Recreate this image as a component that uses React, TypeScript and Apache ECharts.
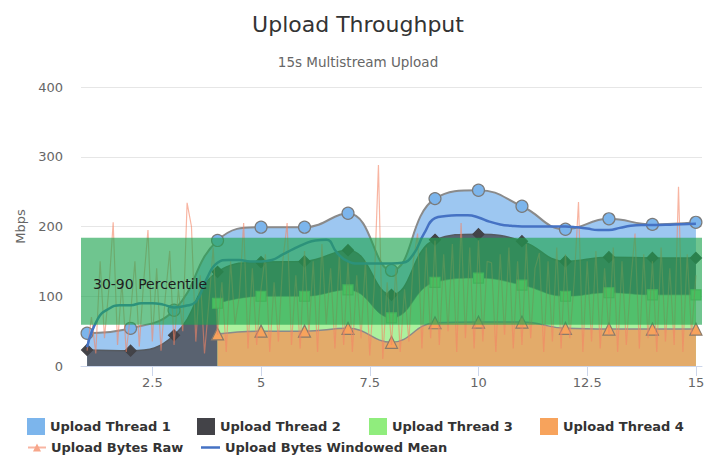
import React, { useEffect, useRef } from "react";
import * as echarts from "echarts";

// ---------- data ----------
const seconds = [1, 2, 3, 4, 5, 6, 7, 8, 9, 10, 11, 12, 13, 14, 15];
const thread1 = [24, 32, 36, 45, 50, 49, 53, 35, 59, 63, 50, 46, 55, 48, 51];
const thread2 = [23, 22, 44, 45, 49, 50, 57, 33, 61, 63, 63, 50, 51, 53, 53];
const thread3 = [null, null, null, 44, 50, 50, 55, 35, 58, 63, 53, 46, 52, 49, 49];
const thread4 = [null, null, null, 46, 50, 50, 54, 34, 62, 63, 63, 54, 53, 53, 53];

const rawStart = 1;
const rawStep = 0.1;
const rawValues = [
  22, 70, 18, 150, 40, 110, 206, 30, 120, 20,
  75, 150, 28, 120, 195, 35, 140, 22, 100, 165,
  30, 110, 50, 234, 200, 35, 130, 18, 90, 170,
  45, 120, 20, 150, 60, 100, 205, 25, 140, 30,
  110, 160, 20, 120, 35, 150, 205, 30, 130, 25,
  165, 45, 150, 20, 175, 60, 140, 25, 160, 30,
  150, 20, 130, 40, 150, 15, 110, 288, 10, 120,
  30, 140, 20, 110, 35, 150, 190, 25, 170, 40,
  180, 30, 160, 50, 175, 20, 205, 40, 170, 25,
  180, 35, 150, 148, 20, 160, 45, 170, 25, 150,
  30, 175, 40, 140, 162, 20, 150, 35, 170, 25,
  160, 40, 120, 235, 20, 150, 35, 165, 25, 140,
  45, 170, 20, 150, 30, 120, 190, 25, 160, 40,
  150, 20, 170, 35, 140, 30, 257, 20, 160, 45,
  130,
];

const meanTimes = [
  1, 1.25, 1.5, 1.75, 2, 2.25, 2.5, 2.75, 3, 3.25, 3.5, 3.75, 4, 4.25, 4.5, 4.75,
  5, 5.25, 5.5, 5.75, 6, 6.25, 6.5, 6.75, 7, 7.25, 7.5, 7.75, 8, 8.25, 8.5, 8.75,
  9, 9.25, 9.5, 9.75, 10, 10.25, 10.5, 10.75, 11, 11.5, 12, 12.25, 12.5, 12.75,
  13, 13.25, 13.5, 13.75, 14, 14.5, 15,
];
const meanValues = [
  27, 68, 82, 87, 87, 90, 90, 88, 84, 86, 92, 125, 148, 152, 152, 150,
  150, 152, 160, 168, 175, 180, 181, 162, 150, 147, 147, 147, 147, 148, 160, 190,
  212, 215, 216, 216, 213, 207, 203, 201, 200, 200, 200, 199, 197, 195,
  195, 198, 201, 202, 202, 203, 204,
];

const xTicks = [2.5, 5, 7.5, 10, 12.5, 15];
const yTicks = [0, 100, 200, 300, 400];
const bandLow = 59;
const bandHigh = 184;
const bandLabel = "30-90 Percentile";

const titleText = "Upload Throughput";
const subtitleText = "15s Multistream Upload";
const yName = "Mbps";

// ---------- styling ----------
const FONT = '"DejaVu Sans", Verdana, sans-serif';
const X_MIN = 0.86;
const X_MAX = 15.14;

const App: React.FC = () => {
  const ref = useRef<HTMLDivElement>(null);

  useEffect(() => {
    if (!ref.current) return;
    const chart = echarts.init(ref.current, undefined, { renderer: "svg" });

    const nz = (v: number | null) => (v == null ? 0 : v);
    const cum1 = seconds.map((_, i) => thread1[i] + thread2[i] + nz(thread3[i]) + nz(thread4[i]));
    const cum2 = seconds.map((_, i) => thread2[i] + nz(thread3[i]) + nz(thread4[i]));
    const cum3 = seconds.map((_, i) => (thread3[i] == null ? null : nz(thread3[i]) + nz(thread4[i])));
    const cum4 = seconds.map((_, i) => thread4[i]);

    const pairs = (vals: (number | null)[]) =>
      seconds.map((x, i) => [x, vals[i]] as [number, number | null]).filter((p) => p[1] != null);

    const areaSeries = (
      name: string,
      vals: (number | null)[],
      color: string,
      fill: string,
      symbol: string,
      symbolSize: number,
      lineColor: string,
      lineWidth: number,
      borderColor: string
    ) => ({
      type: "line",
      name,
      data: pairs(vals),
      smooth: 0.45,
      symbol,
      symbolSize,
      showSymbol: true,
      itemStyle: { color, borderColor, borderWidth: 1.2 },
      lineStyle: { color: lineColor, width: lineWidth },
      areaStyle: { color: fill, opacity: 1 },
      z: 2,
      silent: true,
    });

    const rawData = rawValues.map((v, i) => [rawStart + i * rawStep, v]);
    const meanData = meanTimes.map((t, i) => [t, meanValues[i]]);

    const legendText = { fontFamily: FONT, fontSize: 13, fontWeight: "bold", color: "#333" };
    const legendBase = {
      orient: "horizontal",
      itemWidth: 18,
      itemHeight: 17,
      textStyle: legendText,
      itemStyle: { borderWidth: 0 },
      selectedMode: false,
      padding: 0,
    };

    const option: any = {
      animation: false,
      backgroundColor: "#ffffff",
      title: [
        {
          text: titleText,
          left: "center",
          top: 8,
          textStyle: { fontFamily: FONT, fontSize: 22, fontWeight: "normal", color: "#333" },
        },
        {
          text: subtitleText,
          left: "center",
          top: 50,
          textStyle: { fontFamily: FONT, fontSize: 13.5, fontWeight: "normal", color: "#666" },
        },
      ],
      grid: { left: 81, right: 14, top: 87, bottom: 90 },
      xAxis: {
        type: "value",
        min: X_MIN,
        max: X_MAX,
        axisLine: { show: true, lineStyle: { color: "#ccd6eb", width: 1 } },
        axisTick: { show: true, customValues: xTicks, length: 10, lineStyle: { color: "#ccd6eb" } },
        axisLabel: {
          customValues: xTicks,
          color: "#666",
          fontSize: 13,
          fontFamily: FONT,
          margin: 10,
          formatter: (v: number) => String(v),
        },
        splitLine: { show: false },
      },
      yAxis: {
        type: "value",
        min: yTicks[0],
        max: yTicks[yTicks.length - 1],
        interval: 100,
        name: yName,
        nameLocation: "middle",
        nameGap: 54,
        nameTextStyle: { fontFamily: FONT, fontSize: 13, color: "#666" },
        axisLine: { show: false },
        axisTick: { show: false },
        axisLabel: { color: "#666", fontSize: 13, fontFamily: FONT, margin: 18 },
        splitLine: { lineStyle: { color: "#e6e6e6", width: 1 } },
      },
      legend: [
        { ...legendBase, left: 27, top: 418, icon: "rect", data: ["Upload Thread 1"] },
        { ...legendBase, left: 197, top: 418, icon: "rect", data: ["Upload Thread 2"] },
        { ...legendBase, left: 369, top: 418, icon: "rect", data: ["Upload Thread 3"] },
        { ...legendBase, left: 540, top: 418, icon: "rect", data: ["Upload Thread 4"] },
        { ...legendBase, left: 27, top: 441, itemHeight: 10, data: ["Upload Bytes Raw"] },
        {
          ...legendBase,
          left: 201,
          top: 441,
          itemWidth: 19,
          itemHeight: 2.5,
          icon: "rect",
          data: ["Upload Bytes Windowed Mean"],
        },
      ],
      series: [
        areaSeries("Upload Thread 1", cum1, "#7cb5ec", "#9dc7f1", "circle", 12, "#8a8a8a", 2, "#7a7a7a"),
        areaSeries("Upload Thread 2", cum2, "#434348", "#596270", "diamond", 11, "#555a60", 1.5, "#434348"),
        areaSeries("Upload Thread 3", cum3, "#90ed7d", "#acf19e", "rect", 10, "rgba(110,130,110,0.6)", 1, "#7fcf70"),
        areaSeries("Upload Thread 4", cum4, "#f7a35c", "#e3ab6a", "triangle", 12, "#8a8a8a", 1.5, "#8a7a6a"),
        {
          type: "line",
          name: "Upload Bytes Raw",
          data: rawData,
          symbol: "triangle",
          symbolSize: 7,
          showSymbol: false,
          itemStyle: { color: "#f7a68a" },
          lineStyle: { color: "rgba(244,132,100,0.6)", width: 1.2 },
          z: 3,
          silent: true,
        },
        {
          type: "line",
          name: "Upload Bytes Windowed Mean",
          data: meanData,
          smooth: 0.5,
          symbol: "none",
          itemStyle: { color: "#4572c4" },
          lineStyle: { color: "#4572c4", width: 2.5 },
          z: 3,
          silent: true,
        },
        {
          type: "custom",
          name: "band",
          z: 10,
          silent: true,
          data: [[X_MIN, X_MAX, bandLow, bandHigh]],
          encode: { x: [0, 1], y: [2, 3] },
          renderItem: (_params: any, api: any) => {
            const p1 = api.coord([api.value(0), api.value(3)]);
            const p2 = api.coord([api.value(1), api.value(2)]);
            return {
              type: "group",
              children: [
                {
                  type: "rect",
                  shape: { x: p1[0], y: p1[1], width: p2[0] - p1[0], height: p2[1] - p1[1] },
                  style: { fill: "rgba(30,165,80,0.64)" },
                },
                {
                  type: "text",
                  x: p1[0] + 12,
                  y: (p1[1] + p2[1]) / 2 + 3,
                  style: {
                    text: bandLabel,
                    fill: "#1e1e1e",
                    fontSize: 14,
                    fontFamily: FONT,
                    verticalAlign: "middle",
                    align: "left",
                  },
                },
              ],
            };
          },
        },
      ],
    };

    chart.setOption(option);
    return () => chart.dispose();
  }, []);

  return (
    <div
      ref={ref}
      style={{ position: "fixed", left: 0, top: 0, width: 716, height: 456, background: "#fff" }}
    />
  );
};

export default App;
